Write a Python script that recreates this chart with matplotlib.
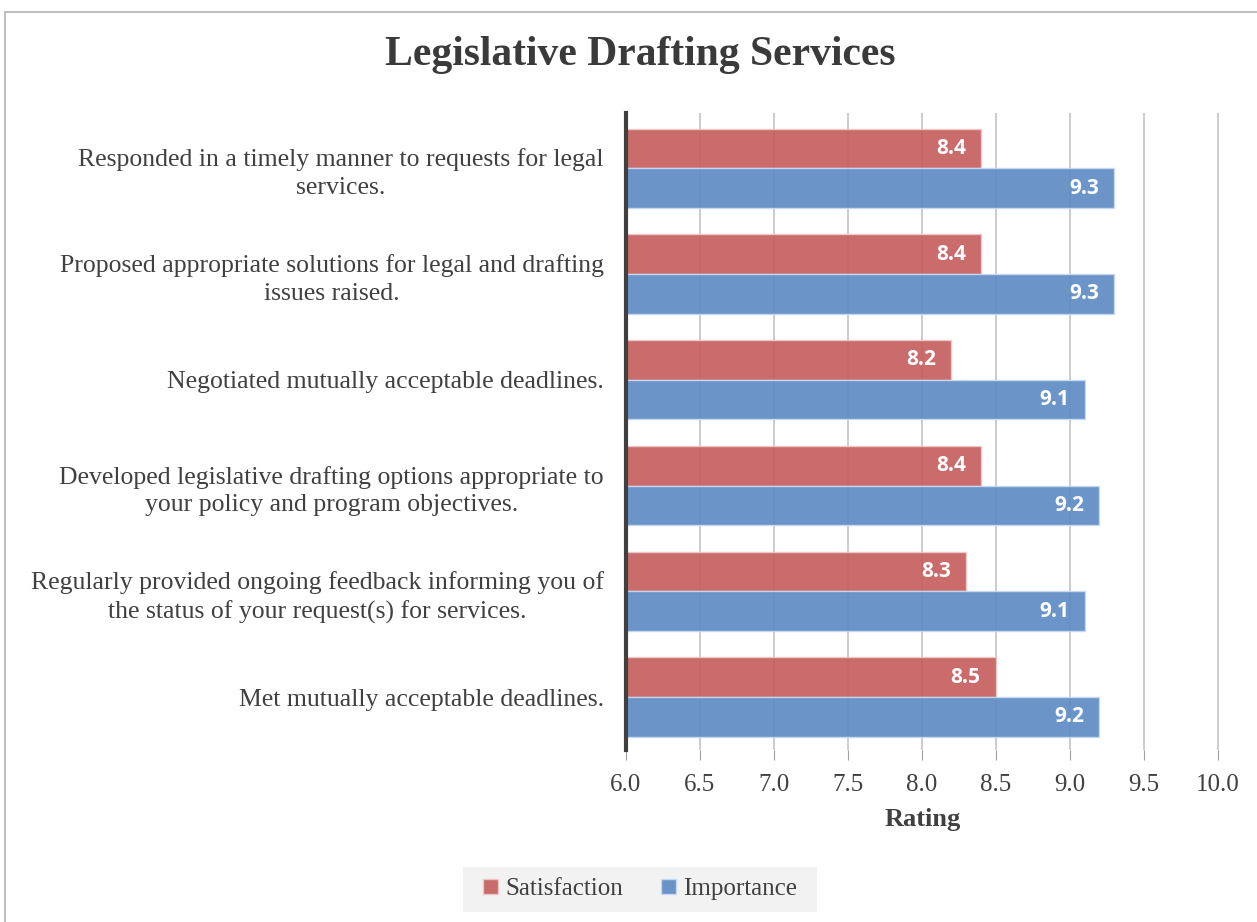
import matplotlib
matplotlib.use("Agg")
import matplotlib.pyplot as plt
import matplotlib.patches as mpatches
import numpy as np

# Data (top to bottom)
categories = [
    "Responded in a timely manner to requests for legal\nservices.",
    "Proposed appropriate solutions for legal and drafting\nissues raised.",
    "Negotiated mutually acceptable deadlines.",
    "Developed legislative drafting options appropriate to\nyour policy and program objectives.",
    "Regularly provided ongoing feedback informing you of\nthe status of your request(s) for services.",
    "Met mutually acceptable deadlines.",
]
satisfaction = [8.4, 8.4, 8.2, 8.4, 8.3, 8.5]
importance = [9.3, 9.3, 9.1, 9.2, 9.1, 9.2]
xticks = [6.0, 6.5, 7.0, 7.5, 8.0, 8.5, 9.0, 9.5, 10.0]

red = "#C65F60"
blue = "#5E8CC5"
text_col = "#404040"
serif = ["Liberation Serif", "DejaVu Serif"]

fig = plt.figure(figsize=(12.57, 9.22), dpi=100)
ax = fig.add_axes([0.498, 0.1866, 0.472, 0.6906])

# chart area border
fig.patches.append(mpatches.Rectangle((0.004, -0.05), 1.05, 1.037, transform=fig.transFigure,
                                      fill=False, edgecolor="#C0C0C0", lw=1.5, zorder=0))
# legend background box
fig.patches.append(mpatches.Rectangle((0.3683, 0.0108), 0.2816, 0.0488, transform=fig.transFigure,
                                      facecolor="#F2F2F2", edgecolor="none", zorder=0))

y = np.arange(len(categories))
h = 0.375
b1 = ax.barh(y - h / 2, [v - 6 for v in satisfaction], left=6, height=h, color=red,
             alpha=0.92, edgecolor="#F0C8C8", lw=1, zorder=3)
b2 = ax.barh(y + h / 2, [v - 6 for v in importance], left=6, height=h, color=blue,
             alpha=0.92, edgecolor="#C8DAF0", lw=1, zorder=3)

for yy, v in zip(y, satisfaction):
    ax.annotate(f"{v:.1f}", (v, yy - h / 2), xytext=(-11, 0), textcoords="offset points",
                ha="right", va="center", color="white", fontsize=15, fontweight="bold",
                family="Open Sans", zorder=4)
for yy, v in zip(y, importance):
    ax.annotate(f"{v:.1f}", (v, yy + h / 2), xytext=(-11, 0), textcoords="offset points",
                ha="right", va="center", color="white", fontsize=15, fontweight="bold",
                family="Open Sans", zorder=4)

ax.set_xlim(6, 10.01)
ax.set_ylim(len(categories) - 0.5, -0.52)
ax.set_xticks(xticks)
ax.set_xticklabels([f"{t:.1f}" for t in xticks], fontsize=18, family=serif, color=text_col)
ax.set_yticks(y)
ax.set_yticklabels(categories, fontsize=18.5, family=serif, color=text_col,
                   multialignment="center", linespacing=1.35)
ax.tick_params(axis="y", length=0, pad=16)
ax.tick_params(axis="x", length=7, color="#A0A0A0", pad=10)
ax.xaxis.grid(True, color="#C4C4C4", lw=1.2, zorder=1)
ax.set_axisbelow(True)
for s in ["top", "right", "bottom"]:
    ax.spines[s].set_visible(False)
ax.spines["left"].set_color("#404040")
ax.spines["left"].set_linewidth(3)
ax.spines["left"].set_zorder(5)

ax.set_xlabel("Rating", fontsize=19, fontweight="bold", family=serif, color=text_col, labelpad=9)

fig.text(0.5095, 0.94, "Legislative Drafting Services", ha="center", va="center",
         fontsize=30, fontweight="bold", family=serif, color="#3A3A3A")

leg = fig.legend([b1, b2], ["Satisfaction", "Importance"], loc="center", bbox_to_anchor=(0.5095, 0.0355),
                 ncol=2, frameon=False, handlelength=0.6, handleheight=0.6, handletextpad=0.3,
                 columnspacing=1.5, prop={"family": serif, "size": 18})
for t in leg.get_texts():
    t.set_color(text_col)

fig.savefig("out.png", dpi=100, facecolor="white")
